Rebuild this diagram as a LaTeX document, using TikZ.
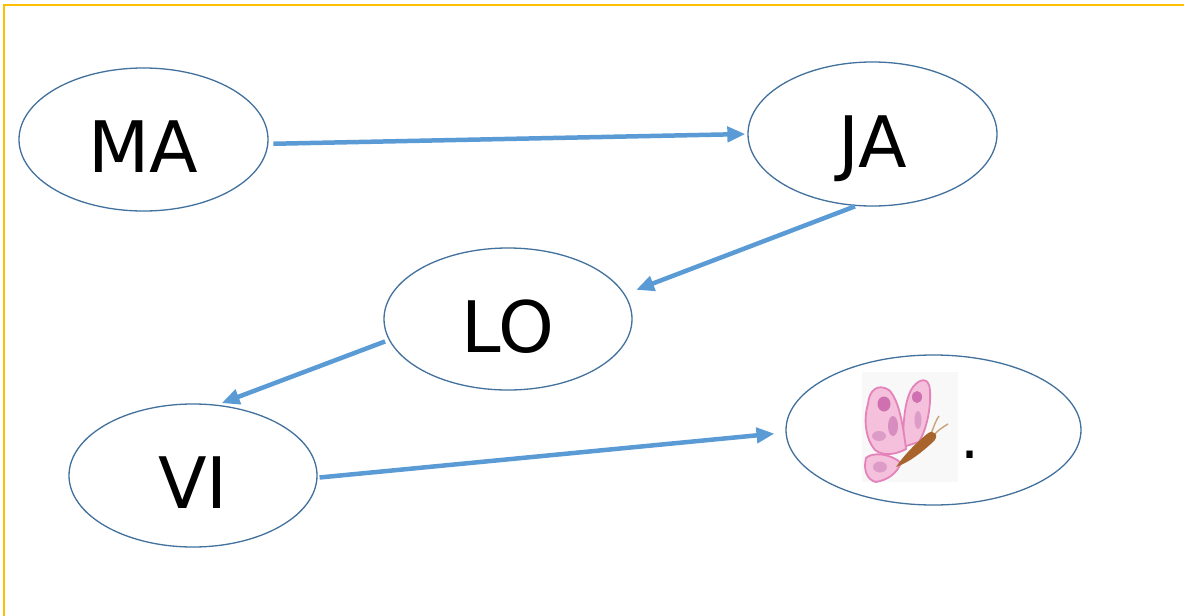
\documentclass[tikz,border=0pt]{standalone}
\usepackage{fontspec}
\setmainfont{DejaVu Sans}
\usetikzlibrary{shapes.geometric,arrows.meta}
\definecolor{ebord}{HTML}{41719C}
\definecolor{arr}{HTML}{5B9BD5}
\definecolor{gold}{HTML}{FFC000}
\definecolor{wingfill}{HTML}{F4C0DC}
\definecolor{wingline}{HTML}{E482BA}
\definecolor{wingspot}{HTML}{CF70B0}
\definecolor{bodyc}{HTML}{A8642C}
\definecolor{antc}{HTML}{C9A27A}
\definecolor{imgbg}{HTML}{F8F8F8}
\begin{document}
\begin{tikzpicture}[x=1pt,y=-1pt,
  ell/.style={ellipse,draw=ebord,line width=1.3pt,inner sep=0pt,
    font=\fontsize{71}{80}\selectfont,text height=66pt,text depth=0pt},
  conn/.style={draw=arr,line width=4.5pt,-{Triangle[length=18pt,width=15pt]}},
  wing/.style={fill=wingfill,draw=wingline,line width=1.8pt},
  spot/.style={fill=wingspot,draw=none}]
\useasboundingbox (0,0) rectangle (1184,616);
\fill[white] (0,0) rectangle (1184,616);
\draw[gold,line width=2pt] (1184,5) -- (4,5) -- (4,616);

\node[ell,minimum width=249pt,minimum height=143pt] (MA) at (143.5,139.5) {MA};
\node[ell,minimum width=249pt,minimum height=144pt] (JA) at (872.5,134) {JA};
\node[ell,minimum width=248pt,minimum height=142pt] (LO) at (508,319) {LO};
\node[ell,minimum width=248pt,minimum height=143pt] (VI) at (193,475.5) {VI};
\node[ell,minimum width=295pt,minimum height=150pt] (B) at (933.5,430) {};

% butterfly picture
\fill[imgbg] (862,372) rectangle (958,482);
% back wing
\path[wing] (903,447) .. controls (903,420) and (905,398) .. (913,387)
  .. controls (920,378) and (929,377) .. (930,390)
  .. controls (931,408) and (927,428) .. (919,442) -- cycle;
\fill[wingspot] (917,397) ellipse (5 and 6);
\fill[wingspot!70] (918,420) ellipse (3.5 and 9);
% front wing
\path[wing] (906,449) .. controls (903,425) and (899,400) .. (889,390)
  .. controls (878,383) and (869,390) .. (868,404)
  .. controls (863,420) and (866,440) .. (875,450)
  .. controls (884,457) and (897,454) .. (906,449) -- cycle;
\fill[wingspot] (884,404) ellipse (6.5 and 7.5);
\fill[wingspot!80] (893,426) ellipse (5 and 10);
\fill[wingspot!70] (879,436) ellipse (7 and 5);
% lower wing
\path[wing] (901,463) .. controls (890,453) and (872,452) .. (866,458)
  .. controls (863,470) and (867,480) .. (876,482)
  .. controls (888,480) and (897,473) .. (901,463) -- cycle;
\fill[wingspot!70] (880,467) ellipse (7 and 5.5);
% antennae
\draw[antc,line width=1.4pt] (931,434) .. controls (934,426) and (936,420) .. (939,416);
\draw[antc,line width=1.4pt] (933,436) .. controls (938,430) and (943,427) .. (948,424);
% body
\fill[bodyc] (896,467) .. controls (904,455) and (916,443) .. (927,434)
  .. controls (934,428) and (940,436) .. (933,442)
  .. controls (922,452) and (910,462) .. (896,467) -- cycle;

\node[font=\fontsize{60}{70}\selectfont,anchor=base,inner sep=0pt] (dot) at (970,458) {.};

\draw[conn,shorten <=5pt,shorten >=2pt] (MA.-2) -- (JA.180);
\draw[conn,shorten <=1pt,shorten >=12pt] (JA.-103) -- (LO.12);
\draw[conn,shorten <=4pt,shorten >=4.5pt] (LO.190) -- (VI.71);
\draw[conn,shorten <=2pt,shorten >=11pt] (VI.-1.6) -- (B.181.8);
\end{tikzpicture}
\end{document}
